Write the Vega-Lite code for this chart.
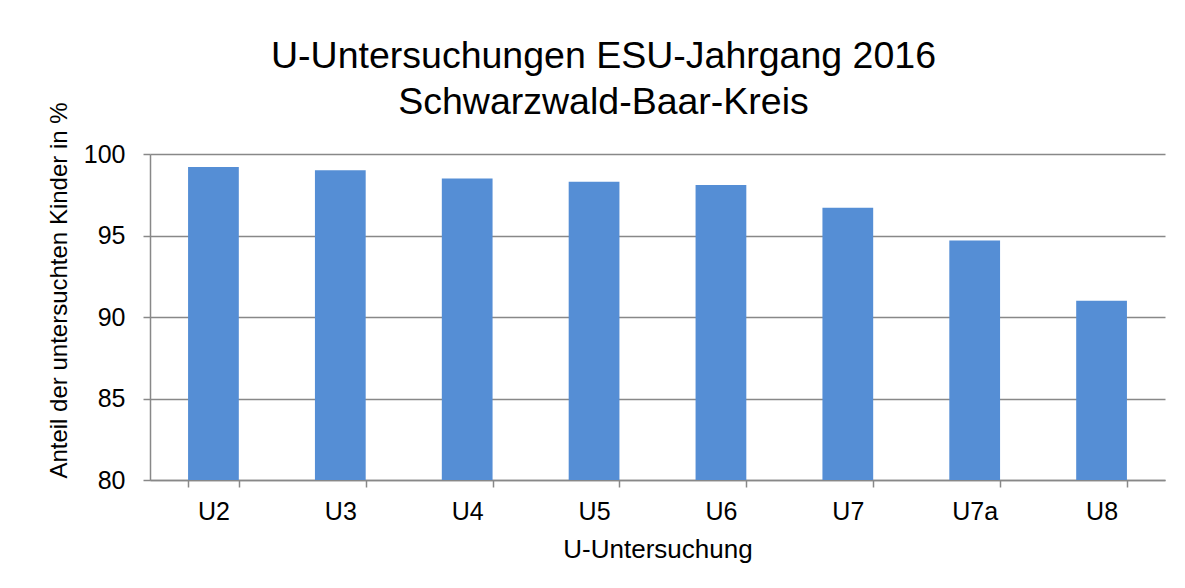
{
  "$schema": "https://vega.github.io/schema/vega-lite/v6.json",
  "width": 1015,
  "height": 326,
  "autosize": {"type": "none"},
  "padding": {"left": 150, "top": 154, "right": 20, "bottom": 108},
  "background": "white",
  "title": {
    "text": ["U-Untersuchungen ESU-Jahrgang 2016", "Schwarzwald-Baar-Kreis"],
    "font": "Liberation Sans",
    "fontSize": 37.5,
    "fontWeight": "normal",
    "color": "black",
    "lineHeight": 46,
    "anchor": "middle",
    "dx": -54,
    "offset": -20
  },
  "data": {
    "values": [
      {"u": "U2", "anteil": 99.2},
      {"u": "U3", "anteil": 99.0},
      {"u": "U4", "anteil": 98.5},
      {"u": "U5", "anteil": 98.3},
      {"u": "U6", "anteil": 98.1},
      {"u": "U7", "anteil": 96.7},
      {"u": "U7a", "anteil": 94.7},
      {"u": "U8", "anteil": 91.0}
    ]
  },
  "mark": {"type": "bar", "color": "#558ED5", "clip": true},
  "encoding": {
    "x": {
      "field": "u",
      "type": "nominal",
      "sort": null,
      "scale": {"paddingInner": 0.6, "paddingOuter": 0.3},
      "axis": {
        "title": "U-Untersuchung",
        "labelAngle": 0,
        "tickBand": "extent",
        "tickSize": 7,
        "labelPadding": 12,
        "titlePadding": 12,
        "titleFontSize": 26
      }
    },
    "y": {
      "field": "anteil",
      "type": "quantitative",
      "scale": {"domain": [80, 100], "nice": false, "zero": false},
      "axis": {
        "title": "Anteil der untersuchten Kinder in %",
        "values": [80, 85, 90, 95, 100],
        "tickSize": 7,
        "labelPadding": 18,
        "titlePadding": 12,
        "titleY": 136
      }
    }
  },
  "config": {
    "view": {"stroke": null},
    "axis": {
      "labelFont": "Liberation Sans",
      "labelFontSize": 25,
      "labelColor": "black",
      "titleFont": "Liberation Sans",
      "titleFontSize": 24,
      "titleFontWeight": "normal",
      "titleColor": "black",
      "domainColor": "#888888",
      "domainWidth": 1.5,
      "tickColor": "#888888",
      "tickWidth": 1.5,
      "gridColor": "#888888",
      "gridWidth": 1.5,
      "gridOpacity": 1
    },
    "axisX": {"grid": false}
  }
}
